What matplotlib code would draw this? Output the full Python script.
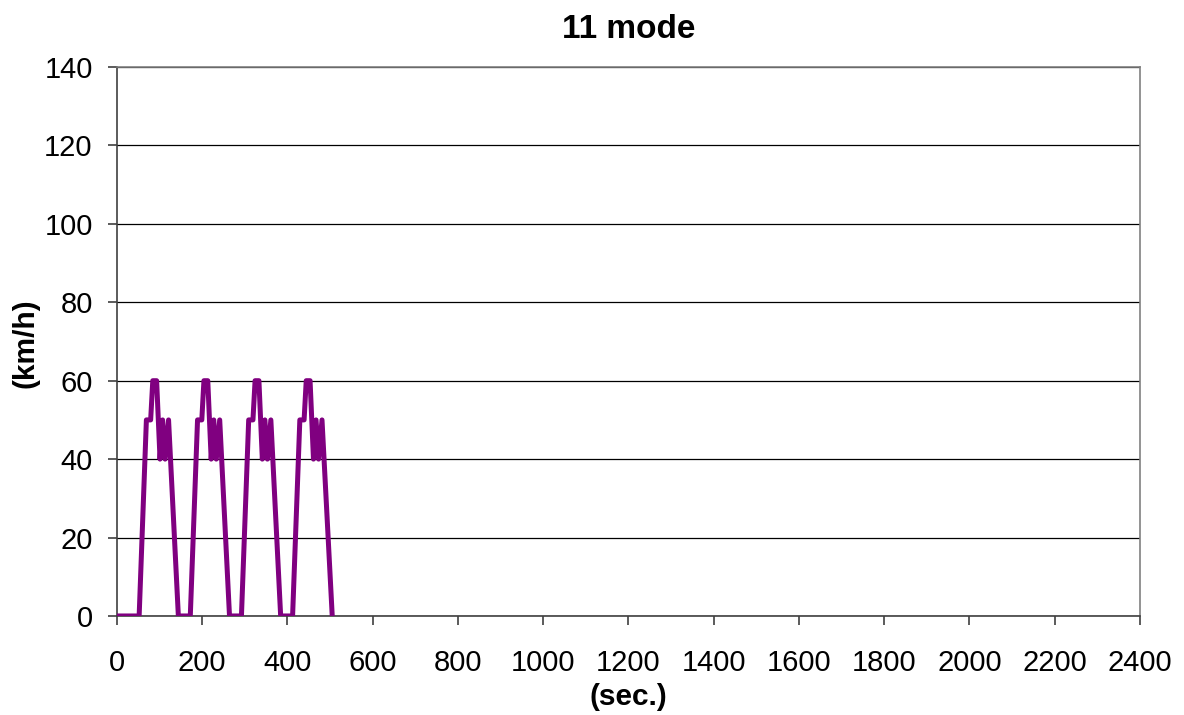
import matplotlib
matplotlib.use("Agg")
import matplotlib.pyplot as plt

plt.rcParams['font.family'] = ['Liberation Sans', 'DejaVu Sans']

time_s = [0, 52, 69, 79, 84, 93, 101, 107, 113, 121, 144,
          172, 189, 199, 204, 213, 221, 227, 233, 241, 264,
          292, 309, 319, 324, 333, 341, 347, 353, 361, 384,
          412, 429, 439, 444, 453, 461, 467, 473, 481, 505]
speed_kmh = [0, 0, 50, 50, 60, 60, 40, 50, 40, 50, 0,
             0, 50, 50, 60, 60, 40, 50, 40, 50, 0,
             0, 50, 50, 60, 60, 40, 50, 40, 50, 0,
             0, 50, 50, 60, 60, 40, 50, 40, 50, 0]
x_ticks = list(range(0, 2401, 200))
y_ticks = list(range(0, 141, 20))

fig = plt.figure(figsize=(11.84, 7.15), dpi=100)
ax = fig.add_axes([0.0988, 0.1385, 0.8640, 0.7678])
ax.plot(time_s, speed_kmh, color='#800080', linewidth=3.6, solid_joinstyle='round', zorder=3)
ax.set_xlim(0, 2400)
ax.set_ylim(0, 140)
ax.set_xticks(x_ticks)
ax.set_yticks(y_ticks)
ax.yaxis.grid(True, color='black', linewidth=0.9)
ax.set_axisbelow(True)
for s in ['left', 'bottom']:
    ax.spines[s].set_color('#404040')
    ax.spines[s].set_linewidth(1.2)
for s in ['top', 'right']:
    ax.spines[s].set_color('#808080')
    ax.spines[s].set_linewidth(1.2)
ax.tick_params(axis='both', labelsize=21, length=6.5, width=1.2, color='#404040', direction='out')
ax.tick_params(axis='x', pad=17)
ax.tick_params(axis='y', pad=11)
fig.text(0.5 * (0.0988 + 0.9628), 1 - 38 / 715, '11 mode', fontsize=24, fontweight='bold',
         ha='center', va='baseline')
ax.set_xlabel('(sec.)', fontsize=21.5, fontweight='bold')
ax.set_ylabel('(km/h)', fontsize=21.5, fontweight='bold')
ax.xaxis.set_label_coords(0.5, (616 - 697) / 549)
ax.yaxis.set_label_coords((26 - 117) / 1023, 0.497)
ax.xaxis.label.set_verticalalignment('center')
ax.yaxis.label.set_verticalalignment('center')
fig.savefig('out.png', dpi=100)
